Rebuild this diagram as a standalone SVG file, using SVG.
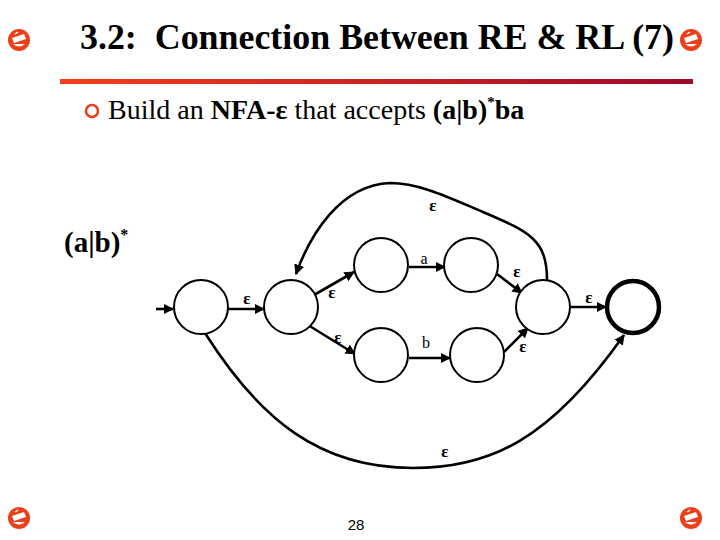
<svg xmlns="http://www.w3.org/2000/svg" width="720" height="540" viewBox="0 0 720 540">
<defs>
<linearGradient id="bar" x1="0" y1="0" x2="1" y2="0">
<stop offset="0" stop-color="#F2401A"/>
<stop offset="1" stop-color="#9A0A2A"/>
</linearGradient>
<marker id="ah" viewBox="0 0 10 10" refX="9" refY="5" markerWidth="4" markerHeight="4" markerUnits="strokeWidth" orient="auto">
<path d="M0,0 L10,5 L0,10 z" fill="#000"/>
</marker>
<g id="icon">
<circle r="11" fill="#EC3F1C"/>
<path d="M-7,-2 L5,-6 L7,-1 L-5,3 z" fill="#fff"/>
<path d="M-6,4 Q0,9 6,4 z" fill="#fff"/>
<path d="M-4,-6 L-1,-8" stroke="#fff" stroke-width="1.5"/>
</g>
<style>
.st{fill:#fff;stroke:#000;stroke-width:2}
.fin{fill:#fff;stroke:#000;stroke-width:4.5}
.e{fill:none;stroke:#000;stroke-width:2.6;marker-end:url(#ah)}
.lb{font-family:"Liberation Serif",serif;font-size:17px;font-weight:bold;text-anchor:middle}
.lr{font-family:"Liberation Serif",serif;font-size:16px;text-anchor:middle}
</style>
</defs>
<rect width="720" height="540" fill="#fff"/>
<use href="#icon" x="19" y="40"/>
<use href="#icon" x="691" y="40"/>
<use href="#icon" x="19" y="518"/>
<use href="#icon" x="691" y="518"/>
<text x="80" y="49" font-family="Liberation Serif,serif" font-size="35" font-weight="bold" textLength="594" lengthAdjust="spacingAndGlyphs" xml:space="preserve">3.2:  Connection Between RE &amp; RL (7)</text>
<rect x="60" y="79" width="633" height="5" fill="url(#bar)"/>
<circle cx="92" cy="111" r="6" fill="none" stroke="#E8401C" stroke-width="2.5"/>
<text x="108" y="119" font-family="Liberation Serif,serif" font-size="28" xml:space="preserve">Build an <tspan font-weight="bold">NFA-ε</tspan> that accepts <tspan font-weight="bold">(a|b)</tspan><tspan font-weight="bold" font-size="15" dy="-12">*</tspan><tspan font-weight="bold" dy="12">ba</tspan></text>
<text x="64" y="252" font-family="Liberation Serif,serif" font-size="29" font-weight="bold">(a|b)<tspan font-size="16" dy="-12">*</tspan></text>
<text x="356" y="530" font-family="Liberation Sans,sans-serif" font-size="15" text-anchor="middle">28</text>
<g id="connectors">
<path class="e" d="M156,309 L173,309"/>
<path class="e" d="M228,309 L264,309"/>
<path class="e" d="M314,295 L354,272"/>
<path class="e" d="M308,325 L355,354"/>
<path class="e" d="M409,267 L445,267"/>
<path class="e" d="M409,358 L450,358"/>
<path class="e" d="M497,274 L522,293"/>
<path class="e" d="M504,352 L528,328"/>
<path class="e" d="M571,307 L606,307"/>
<path class="e" d="M547,280 C547,240 530,232 483,212 C450,198 420,183 390,183 C340,185 310,235 296,274"/>
<path class="e" d="M205,333 C260,420 320,468 413,468 C490,468 550,440 624,335"/>
</g>
<g id="labels">
<text class="lb" x="247" y="304">ε</text>
<text class="lb" x="332" y="298">ε</text>
<text class="lb" x="338" y="343">ε</text>
<text class="lr" x="424" y="264">a</text>
<text class="lr" x="426" y="348">b</text>
<text class="lb" x="517" y="277">ε</text>
<text class="lb" x="523" y="352">ε</text>
<text class="lb" x="589" y="303">ε</text>
<text class="lb" x="433" y="211">ε</text>
<text class="lb" x="445" y="457">ε</text>
</g>
<g id="nA"><circle class="st" cx="201" cy="307" r="27"/></g>
<g id="nB"><circle class="st" cx="291" cy="307" r="27"/></g>
<g id="nC"><circle class="st" cx="381" cy="265" r="27"/></g>
<g id="nD"><circle class="st" cx="471" cy="265" r="27"/></g>
<g id="nE"><circle class="st" cx="381" cy="355" r="27"/></g>
<g id="nF"><circle class="st" cx="477" cy="355" r="27"/></g>
<g id="nG"><circle class="st" cx="543" cy="307" r="27"/></g>
<g id="nH"><circle class="fin" cx="633" cy="307" r="26"/></g>
</svg>
